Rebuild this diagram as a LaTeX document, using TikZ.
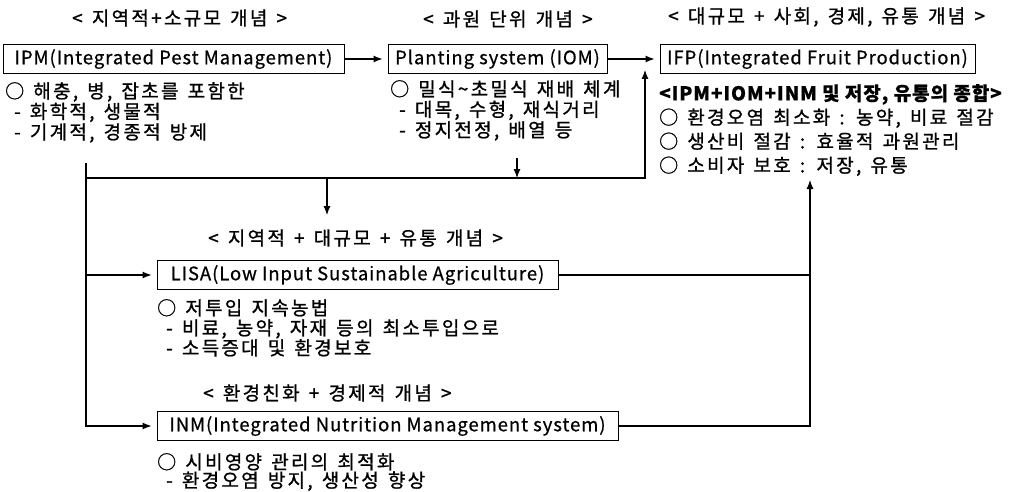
\documentclass[tikz,border=0pt]{standalone}
\usepackage{fontspec}
\setmainfont{Noto Sans CJK KR}[LetterSpace=12, WordSpace=1.4, FakeBold=1]
\newfontfamily\boxfont{Noto Sans CJK KR}[LetterSpace=5, FakeBold=0.6]
\usetikzlibrary{arrows.meta,positioning}
\tikzset{
  concept/.style={draw=black, line width=1pt, minimum height=29pt, inner xsep=6pt, font=\boxfont\fontsize{18.5}{21}\selectfont},
  heading/.style={anchor=west, inner sep=0pt, font=\fontsize{19}{22}\selectfont},
  note/.style={anchor=north west, inner sep=0pt, align=left, font=\fontsize{19}{20.5}\selectfont},
  link/.style={line width=1.1pt},
  flow/.style={link, -{Latex[length=9pt,width=7pt]}},
  into/.style={flow, shorten >=5pt}
}
\newcommand\sub{\hspace*{9pt}- }

\begin{document}
\begin{tikzpicture}[x=1pt,y=-1pt]
  \useasboundingbox (0,0) rectangle (1022,492);
  \node[heading] (h-local) at (72,18) {< 지역적+소규모 개념 >};
  \node[heading] (h-orchard) at (423,19) {< 과원 단위 개념 >};
  \node[heading] (h-large) at (668,17) {< 대규모 + 사회, 경제, 유통 개념 >};
  \node[heading] (h-dist) at (208,238) {< 지역적 + 대규모 + 유통 개념 >};
  \node[heading] (h-eco) at (203,393) {< 환경친화 + 경제적 개념 >};

  \node[concept, minimum width=341pt] (ipm) at (173.5,59) {IPM(Integrated Pest Management)};
  \node[concept, minimum width=219pt] (iom) at (497.5,59) {Planting system (IOM)};
  \node[concept, minimum width=315pt] (ifp) at (817.5,59) {IFP(Integrated Fruit Production)};
  \node[concept, minimum width=401pt] (lisa) at (357.5,275) {LISA(Low Input Sustainable Agriculture)};
  \node[concept, minimum width=461pt] (inm) at (387.5,426) {INM(Integrated Nutrition Management system)};

  \node[note] (ipm-note) at (5,82) {○ 해충, 병, 잡초를 포함한\\ \sub 화학적, 생물적\\ \sub 기계적, 경종적 방제};
  \node[note] (iom-note) at (390,80) {○ 밀식\textasciitilde 초밀식 재배 체계\\ \sub 대목, 수형, 재식거리\\ \sub 정지전정, 배열 등};
  \node[note, font=\fontsize{19}{24}\selectfont] (ifp-note) at (659,84) {{\boxfont\bfseries <IPM+IOM+INM 및 저장, 유통의 종합>}\\ ○ 환경오염 최소화 : 농약, 비료 절감\\ ○ 생산비 절감 : 효율적 과원관리\\ ○ 소비자 보호 : 저장, 유통};
  \node[note, font=\fontsize{19}{20}\selectfont] (lisa-note) at (157,299) {○ 저투입 지속농법\\ \sub 비료, 농약, 자재 등의 최소투입으로\\ \sub 소득증대 및 환경보호};
  \node[note, font=\fontsize{19}{17}\selectfont] (inm-note) at (157,453) {○ 시비영양 관리의 최적화\\ \sub 환경오염 방지, 생산성 향상};

  \coordinate (spine) at (86,163);
  \coordinate (spine-mid) at (86,178);
  \coordinate (lisa-in) at (spine |- lisa);
  \coordinate (back-tip) at (645,70);
  \coordinate (iom-drop) at (517,158);
  \coordinate (iom-join) at (517,178);
  \coordinate (down) at (327,178);
  \coordinate (down-tip) at (327,215);
  \coordinate (rise-tip) at (810,180);
  \coordinate (lisa-out) at (lisa.east -| rise-tip);

  \draw[into] (ipm) -- (iom);
  \draw[into] (iom) -- (ifp);
  \draw[into] (spine) |- (inm);
  \draw[into] (lisa-in) -- (lisa);
  \draw[flow] (spine-mid) -| (back-tip);
  \draw[flow] (iom-drop) -- (iom-join);
  \draw[flow] (down) -- (down-tip);
  \draw[flow] (inm) -| (rise-tip);
  \draw[link] (lisa) -- (lisa-out);
\end{tikzpicture}
\end{document}
